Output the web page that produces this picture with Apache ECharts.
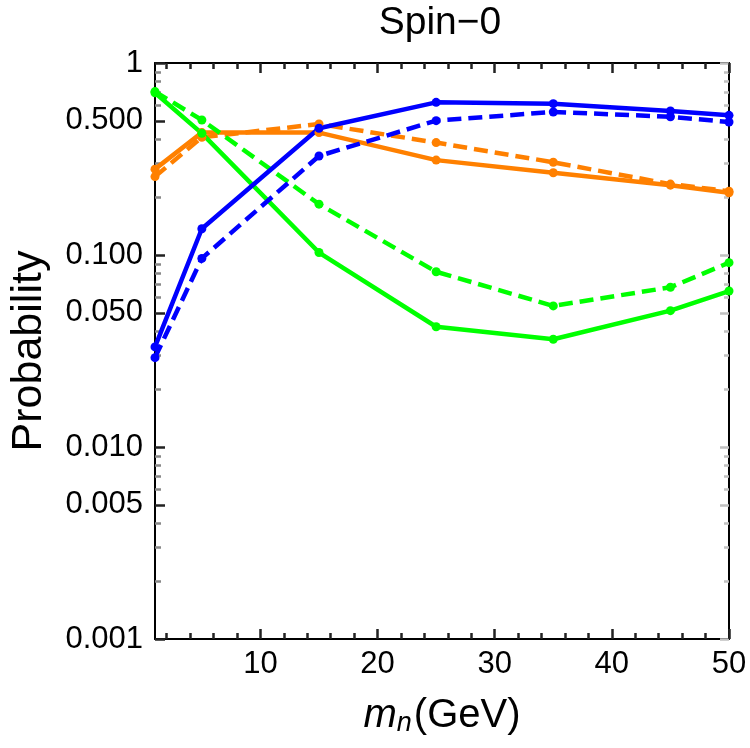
<!DOCTYPE html>
<html>
<head>
<meta charset="utf-8">
<script src="https://cdn.jsdelivr.net/npm/echarts@6/dist/echarts.min.js"></script>
<style>
  html, body { margin: 0; padding: 0; background: #fff; }
  #main { width: 750px; height: 748px; }
</style>
</head>
<body>
<div id="main"></div>
<script>
const xVals = [1, 5, 15, 25, 35, 45, 50]
const blueSolid = [0.0332, 0.137, 0.457, 0.624, 0.614, 0.562, 0.534]
const blueDashed = [0.0292, 0.096, 0.328, 0.501, 0.556, 0.525, 0.493]
const orangeSolid = [0.280, 0.434, 0.434, 0.312, 0.268, 0.231, 0.211]
const orangeDashed = [0.256, 0.410, 0.481, 0.385, 0.304, 0.234, 0.215]
const greenSolid = [0.70, 0.430, 0.103, 0.0423, 0.0364, 0.0513, 0.0649]
const greenDashed = [0.71, 0.505, 0.184, 0.0818, 0.0543, 0.0679, 0.0912]

const xMajorTicks = [10, 20, 30, 40, 50]
const xMinorTicks = [2, 4, 6, 8, 12, 14, 16, 18, 22, 24, 26, 28, 32, 34, 36, 38, 42, 44, 46, 48]
const yMajorTicks = [0.001, 0.005, 0.01, 0.05, 0.1, 0.5, 1]
const yTickLabels = ['0.001', '0.005', '0.010', '0.050', '0.100', '0.500', '1']
const yMinorTicks = [0.002, 0.003, 0.004, 0.006, 0.007, 0.008, 0.009,
  0.02, 0.03, 0.04, 0.06, 0.07, 0.08, 0.09,
  0.2, 0.3, 0.4, 0.6, 0.7, 0.8, 0.9]

const font = 'Liberation Sans, Arial, sans-serif'
const tickColor = '#222'
const yMajorLog = yMajorTicks.map(Math.log10)
const yMinorLog = yMinorTicks.map(Math.log10)

const pairs = ys => xVals.map((x, i) => [x, ys[i]])

function line(data, color, dashed) {
  return {
    type: 'line',
    xAxisIndex: 0,
    yAxisIndex: 0,
    data: pairs(data),
    symbol: 'circle',
    symbolSize: 9,
    itemStyle: { color: color },
    lineStyle: { color: color, width: 4.5, type: dashed ? [14, 7] : 'solid' },
  }
}

// frame axes that only carry tick marks
function tickAxis(pos, ticks, len, color, lineOn) {
  const isX = pos === 'top' || pos === 'bottom'
  return {
    type: 'value',
    position: pos,
    min: isX ? 1 : -3,
    max: isX ? 50 : 0,
    axisLine: { show: lineOn, onZero: false, lineStyle: { color: '#000', width: 2 } },
    axisTick: { show: true, inside: true, length: len, customValues: ticks, lineStyle: { color: color, width: 2.5 } },
    axisLabel: { show: false },
    splitLine: { show: false },
  }
}

const chart = echarts.init(document.getElementById('main'))
chart.setOption({
  animation: false,
  backgroundColor: '#fff',
  title: {
    text: 'Spin\u22120',
    left: 440,
    top: 4,
    padding: 0,
    textAlign: 'center',
    textStyle: { fontFamily: font, fontSize: 39, fontWeight: 'normal', color: '#000' },
  },
  grid: { left: 152, right: 21, top: 63, bottom: 109 },
  xAxis: [
    {
      type: 'value',
      position: 'bottom',
      min: 1,
      max: 50,
      axisLine: { show: true, onZero: false, lineStyle: { color: '#000', width: 2 } },
      axisTick: { show: true, inside: true, length: 10, customValues: xMajorTicks, lineStyle: { color: tickColor, width: 2.5 } },
      axisLabel: { customValues: xMajorTicks, margin: 10, fontFamily: font, fontSize: 31, color: '#000' },
      splitLine: { show: false },
      name: '{i|m}{s|n}{t|(GeV)}',
      nameLocation: 'middle',
      nameGap: 55,
      nameTextStyle: {
        rich: {
          i: { fontFamily: font, fontSize: 40, fontStyle: 'italic', color: '#000' },
          s: { fontFamily: font, fontSize: 27, fontStyle: 'italic', color: '#000', padding: [16, 2, 0, 0] },
          t: { fontFamily: font, fontSize: 40, color: '#000' },
        },
      },
    },
    tickAxis('bottom', xMinorTicks, 6, tickColor, false),
    tickAxis('top', xMajorTicks, 10, tickColor, true),
    tickAxis('top', xMinorTicks, 6, tickColor, false),
  ],
  yAxis: [
    {
      type: 'log',
      logBase: 10,
      min: 0.001,
      max: 1,
      position: 'left',
      axisLine: { show: false },
      axisTick: { show: false },
      axisLabel: { show: false },
      splitLine: { show: false },
    },
    {
      type: 'value',
      position: 'left',
      min: -3,
      max: 0,
      axisLine: { show: true, onZero: false, lineStyle: { color: '#000', width: 2 } },
      axisTick: { show: true, inside: true, length: 10, customValues: yMajorLog, lineStyle: { color: tickColor, width: 2.5 } },
      axisLabel: {
        customValues: yMajorLog,
        margin: 12,
        fontFamily: font,
        fontSize: 31,
        color: '#000',
        formatter: v => {
          let best = 0
          yMajorLog.forEach((t, i) => { if (Math.abs(t - v) < Math.abs(yMajorLog[best] - v)) best = i })
          return yTickLabels[best]
        },
      },
      splitLine: { show: false },
      name: 'Probability',
      nameLocation: 'middle',
      nameGap: 104,
      nameTextStyle: { fontFamily: font, fontSize: 43, color: '#000' },
    },
    tickAxis('left', yMinorLog, 6, '#888', false),
    tickAxis('right', yMajorLog, 9, '#c0c0c0', true),
    tickAxis('right', yMinorLog, 5, '#c0c0c0', false),
  ],
  series: [
    line(orangeSolid, '#ff8000', false),
    line(orangeDashed, '#ff8000', true),
    line(greenSolid, '#00ff00', false),
    line(greenDashed, '#00ff00', true),
    line(blueSolid, '#0000ff', false),
    line(blueDashed, '#0000ff', true),
  ],
})
</script>
</body>
</html>
